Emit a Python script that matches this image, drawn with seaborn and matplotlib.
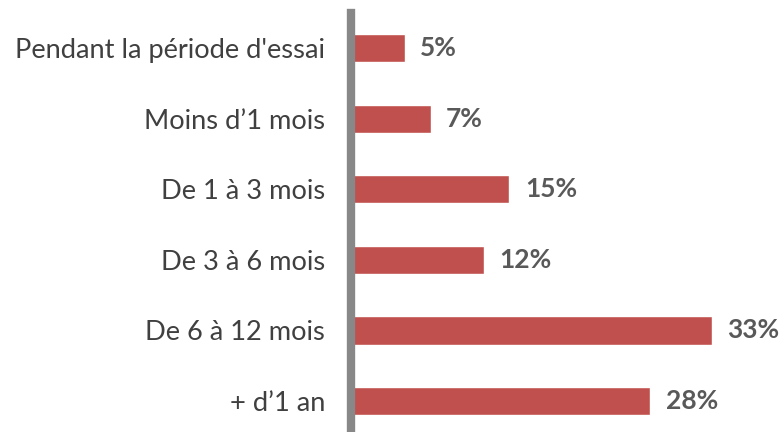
import matplotlib
matplotlib.use("Agg")
import matplotlib.pyplot as plt
import pandas as pd
import seaborn as sns

# categories top to bottom
categories = ["Pendant la période d'essai", "Moins d\u20191 mois", "De 1 à 3 mois",
              "De 3 à 6 mois", "De 6 à 12 mois", "+ d\u20191 an"]
# bar lengths (percent)
values = [4.9, 7.3, 14.5, 12.2, 33.0, 27.4]
# labels as printed
value_labels = ["5%", "7%", "15%", "12%", "33%", "28%"]

df = pd.DataFrame({"cat": categories, "val": values})

sns.set_style("white")
plt.rcParams["font.family"] = ["Lato", "DejaVu Sans"]

fig = plt.figure(figsize=(7.81, 4.32), dpi=100)
ax = fig.add_axes([351 / 781, 0, 430 / 781, 419 / 432])

sns.barplot(data=df, x="val", y="cat", color="#C0504D", width=0.4,
            saturation=1, ax=ax, orient="h")

ax.set_xlim(0, 430 / 10.93)
ax.set_ylim(5.44, -0.5)
ax.set_xlabel("")
ax.set_ylabel("")
ax.set_xticks([])

for s in ["top", "right", "bottom"]:
    ax.spines[s].set_visible(False)
ax.spines["left"].set_color("#888888")
ax.spines["left"].set_linewidth(6)
ax.spines["left"].set_zorder(5)

ax.tick_params(axis="y", length=0, pad=18.5, labelsize=19.6, labelcolor="#404040")

for i, (v, lab) in enumerate(zip(values, value_labels)):
    ax.annotate(lab, (v, i), xytext=(11, 0), textcoords="offset points",
                va="center", ha="left", fontsize=19, fontweight="bold",
                color="#595959")

fig.savefig("out.png", dpi=100)
plt.close(fig)
